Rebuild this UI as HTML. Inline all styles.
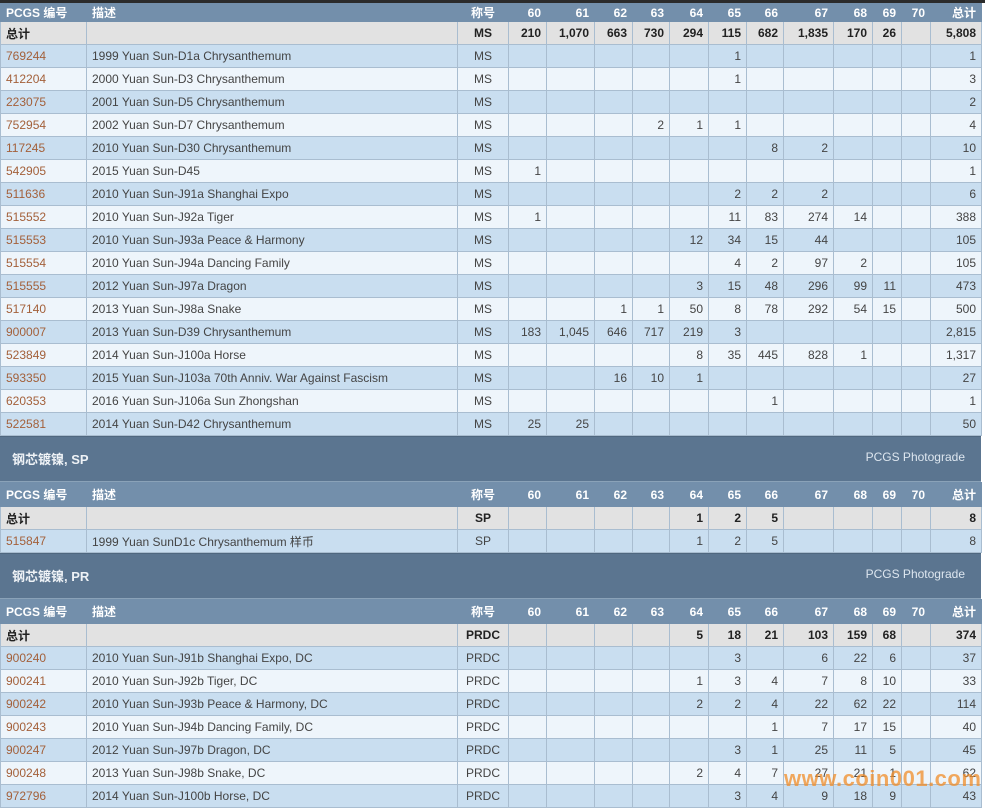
<!DOCTYPE html>
<html><head><meta charset="utf-8">
<style>
html,body{margin:0;padding:0;background:#fff;width:985px;height:808px;overflow:hidden}
body{font-family:"Liberation Sans","Noto Sans CJK SC",sans-serif;font-size:12px;color:#444}
.top{height:3px;background:#2b2b2b;width:985px}
table{border-collapse:collapse;table-layout:fixed;width:981px}
td{border:1px solid #a9bdd0;padding:0 5px;white-space:nowrap;overflow:hidden;text-align:right}
td:nth-child(1),td:nth-child(2){text-align:left}
td:nth-child(3){text-align:center}
tr{height:23px}
tr.h{background:#738fab;color:#fff;font-weight:bold;height:24px}
tr.h td{border-color:#738fab}
tr.h1{height:18px}
tr.t{background:#e2e2e2;font-weight:bold;color:#222}
tr.o{background:#c9def0}
tr.e{background:#eef5fb}
tr td:first-child a{color:#a3603a;text-decoration:none}
.sec{background:#5b7590;height:44px;width:981px;border-top:1px solid #4f677f;border-bottom:1px solid #8aa2b8;position:relative;color:#eef2f6}
.sec b{position:absolute;left:12px;top:12px;font-size:13px}
.sec span{position:absolute;right:16px;top:13px;font-size:12px;color:#dde6ef}
.wm{position:absolute;left:784px;top:766px;font-size:22px;font-weight:bold;color:rgba(240,140,40,0.75);letter-spacing:0.5px}
</style></head><body>
<div class="top"></div>
<table>
<colgroup><col style="width:86px"><col style="width:371px"><col style="width:51px"><col style="width:38px"><col style="width:48px"><col style="width:38px"><col style="width:37px"><col style="width:39px"><col style="width:38px"><col style="width:37px"><col style="width:50px"><col style="width:39px"><col style="width:29px"><col style="width:29px"><col style="width:51px"></colgroup>
<tr class="h h1"><td>PCGS 编号</td><td>描述</td><td>称号</td><td>60</td><td>61</td><td>62</td><td>63</td><td>64</td><td>65</td><td>66</td><td>67</td><td>68</td><td>69</td><td>70</td><td>总计</td></tr>
<tr class="t"><td>总计</td><td></td><td>MS</td><td>210</td><td>1,070</td><td>663</td><td>730</td><td>294</td><td>115</td><td>682</td><td>1,835</td><td>170</td><td>26</td><td></td><td>5,808</td></tr>
<tr class="o"><td><a>769244</a></td><td>1999 Yuan Sun-D1a Chrysanthemum</td><td>MS</td><td></td><td></td><td></td><td></td><td></td><td>1</td><td></td><td></td><td></td><td></td><td></td><td>1</td></tr>
<tr class="e"><td><a>412204</a></td><td>2000 Yuan Sun-D3 Chrysanthemum</td><td>MS</td><td></td><td></td><td></td><td></td><td></td><td>1</td><td></td><td></td><td></td><td></td><td></td><td>3</td></tr>
<tr class="o"><td><a>223075</a></td><td>2001 Yuan Sun-D5 Chrysanthemum</td><td>MS</td><td></td><td></td><td></td><td></td><td></td><td></td><td></td><td></td><td></td><td></td><td></td><td>2</td></tr>
<tr class="e"><td><a>752954</a></td><td>2002 Yuan Sun-D7 Chrysanthemum</td><td>MS</td><td></td><td></td><td></td><td>2</td><td>1</td><td>1</td><td></td><td></td><td></td><td></td><td></td><td>4</td></tr>
<tr class="o"><td><a>117245</a></td><td>2010 Yuan Sun-D30 Chrysanthemum</td><td>MS</td><td></td><td></td><td></td><td></td><td></td><td></td><td>8</td><td>2</td><td></td><td></td><td></td><td>10</td></tr>
<tr class="e"><td><a>542905</a></td><td>2015 Yuan Sun-D45</td><td>MS</td><td>1</td><td></td><td></td><td></td><td></td><td></td><td></td><td></td><td></td><td></td><td></td><td>1</td></tr>
<tr class="o"><td><a>511636</a></td><td>2010 Yuan Sun-J91a Shanghai Expo</td><td>MS</td><td></td><td></td><td></td><td></td><td></td><td>2</td><td>2</td><td>2</td><td></td><td></td><td></td><td>6</td></tr>
<tr class="e"><td><a>515552</a></td><td>2010 Yuan Sun-J92a Tiger</td><td>MS</td><td>1</td><td></td><td></td><td></td><td></td><td>11</td><td>83</td><td>274</td><td>14</td><td></td><td></td><td>388</td></tr>
<tr class="o"><td><a>515553</a></td><td>2010 Yuan Sun-J93a Peace &amp; Harmony</td><td>MS</td><td></td><td></td><td></td><td></td><td>12</td><td>34</td><td>15</td><td>44</td><td></td><td></td><td></td><td>105</td></tr>
<tr class="e"><td><a>515554</a></td><td>2010 Yuan Sun-J94a Dancing Family</td><td>MS</td><td></td><td></td><td></td><td></td><td></td><td>4</td><td>2</td><td>97</td><td>2</td><td></td><td></td><td>105</td></tr>
<tr class="o"><td><a>515555</a></td><td>2012 Yuan Sun-J97a Dragon</td><td>MS</td><td></td><td></td><td></td><td></td><td>3</td><td>15</td><td>48</td><td>296</td><td>99</td><td>11</td><td></td><td>473</td></tr>
<tr class="e"><td><a>517140</a></td><td>2013 Yuan Sun-J98a Snake</td><td>MS</td><td></td><td></td><td>1</td><td>1</td><td>50</td><td>8</td><td>78</td><td>292</td><td>54</td><td>15</td><td></td><td>500</td></tr>
<tr class="o"><td><a>900007</a></td><td>2013 Yuan Sun-D39 Chrysanthemum</td><td>MS</td><td>183</td><td>1,045</td><td>646</td><td>717</td><td>219</td><td>3</td><td></td><td></td><td></td><td></td><td></td><td>2,815</td></tr>
<tr class="e"><td><a>523849</a></td><td>2014 Yuan Sun-J100a Horse</td><td>MS</td><td></td><td></td><td></td><td></td><td>8</td><td>35</td><td>445</td><td>828</td><td>1</td><td></td><td></td><td>1,317</td></tr>
<tr class="o"><td><a>593350</a></td><td>2015 Yuan Sun-J103a 70th Anniv. War Against Fascism</td><td>MS</td><td></td><td></td><td>16</td><td>10</td><td>1</td><td></td><td></td><td></td><td></td><td></td><td></td><td>27</td></tr>
<tr class="e"><td><a>620353</a></td><td>2016 Yuan Sun-J106a Sun Zhongshan</td><td>MS</td><td></td><td></td><td></td><td></td><td></td><td></td><td>1</td><td></td><td></td><td></td><td></td><td>1</td></tr>
<tr class="o"><td><a>522581</a></td><td>2014 Yuan Sun-D42 Chrysanthemum</td><td>MS</td><td>25</td><td>25</td><td></td><td></td><td></td><td></td><td></td><td></td><td></td><td></td><td></td><td>50</td></tr>
</table>
<div class="sec"><b>钢芯镀镍, SP</b><span>PCGS Photograde</span></div>
<table>
<colgroup><col style="width:86px"><col style="width:371px"><col style="width:51px"><col style="width:38px"><col style="width:48px"><col style="width:38px"><col style="width:37px"><col style="width:39px"><col style="width:38px"><col style="width:37px"><col style="width:50px"><col style="width:39px"><col style="width:29px"><col style="width:29px"><col style="width:51px"></colgroup>
<tr class="h"><td>PCGS 编号</td><td>描述</td><td>称号</td><td>60</td><td>61</td><td>62</td><td>63</td><td>64</td><td>65</td><td>66</td><td>67</td><td>68</td><td>69</td><td>70</td><td>总计</td></tr>
<tr class="t"><td>总计</td><td></td><td>SP</td><td></td><td></td><td></td><td></td><td>1</td><td>2</td><td>5</td><td></td><td></td><td></td><td></td><td>8</td></tr>
<tr class="o"><td><a>515847</a></td><td>1999 Yuan SunD1c Chrysanthemum 样币</td><td>SP</td><td></td><td></td><td></td><td></td><td>1</td><td>2</td><td>5</td><td></td><td></td><td></td><td></td><td>8</td></tr>
</table>
<div class="sec"><b>钢芯镀镍, PR</b><span>PCGS Photograde</span></div>
<table>
<colgroup><col style="width:86px"><col style="width:371px"><col style="width:51px"><col style="width:38px"><col style="width:48px"><col style="width:38px"><col style="width:37px"><col style="width:39px"><col style="width:38px"><col style="width:37px"><col style="width:50px"><col style="width:39px"><col style="width:29px"><col style="width:29px"><col style="width:51px"></colgroup>
<tr class="h"><td>PCGS 编号</td><td>描述</td><td>称号</td><td>60</td><td>61</td><td>62</td><td>63</td><td>64</td><td>65</td><td>66</td><td>67</td><td>68</td><td>69</td><td>70</td><td>总计</td></tr>
<tr class="t"><td>总计</td><td></td><td>PRDC</td><td></td><td></td><td></td><td></td><td>5</td><td>18</td><td>21</td><td>103</td><td>159</td><td>68</td><td></td><td>374</td></tr>
<tr class="o"><td><a>900240</a></td><td>2010 Yuan Sun-J91b Shanghai Expo, DC</td><td>PRDC</td><td></td><td></td><td></td><td></td><td></td><td>3</td><td></td><td>6</td><td>22</td><td>6</td><td></td><td>37</td></tr>
<tr class="e"><td><a>900241</a></td><td>2010 Yuan Sun-J92b Tiger, DC</td><td>PRDC</td><td></td><td></td><td></td><td></td><td>1</td><td>3</td><td>4</td><td>7</td><td>8</td><td>10</td><td></td><td>33</td></tr>
<tr class="o"><td><a>900242</a></td><td>2010 Yuan Sun-J93b Peace &amp; Harmony, DC</td><td>PRDC</td><td></td><td></td><td></td><td></td><td>2</td><td>2</td><td>4</td><td>22</td><td>62</td><td>22</td><td></td><td>114</td></tr>
<tr class="e"><td><a>900243</a></td><td>2010 Yuan Sun-J94b Dancing Family, DC</td><td>PRDC</td><td></td><td></td><td></td><td></td><td></td><td></td><td>1</td><td>7</td><td>17</td><td>15</td><td></td><td>40</td></tr>
<tr class="o"><td><a>900247</a></td><td>2012 Yuan Sun-J97b Dragon, DC</td><td>PRDC</td><td></td><td></td><td></td><td></td><td></td><td>3</td><td>1</td><td>25</td><td>11</td><td>5</td><td></td><td>45</td></tr>
<tr class="e"><td><a>900248</a></td><td>2013 Yuan Sun-J98b Snake, DC</td><td>PRDC</td><td></td><td></td><td></td><td></td><td>2</td><td>4</td><td>7</td><td>27</td><td>21</td><td>1</td><td></td><td>62</td></tr>
<tr class="o"><td><a>972796</a></td><td>2014 Yuan Sun-J100b Horse, DC</td><td>PRDC</td><td></td><td></td><td></td><td></td><td></td><td>3</td><td>4</td><td>9</td><td>18</td><td>9</td><td></td><td>43</td></tr>
</table>
<div class="wm">www.coin001.com</div>
</body></html>
